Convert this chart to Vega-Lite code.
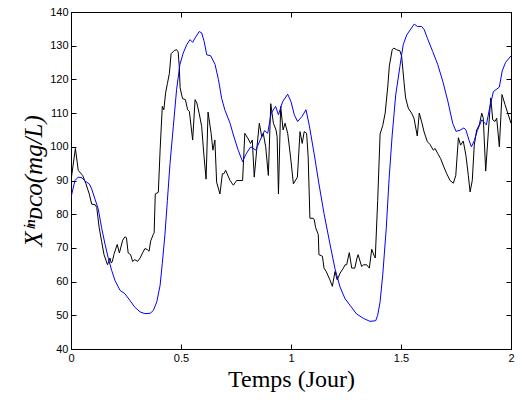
{
  "$schema": "https://vega.github.io/schema/vega-lite/v6.json",
  "width": 440,
  "height": 337,
  "autosize": {"type": "none"},
  "padding": {"left": 71, "top": 12, "right": 9, "bottom": 54},
  "background": "white",
  "config": {
    "view": {"stroke": "black", "strokeWidth": 1},
    "axis": {
      "grid": false,
      "domain": false,
      "ticks": true,
      "tickSize": -5,
      "tickColor": "black",
      "labelPadding": 8,
      "labelFont": "Liberation Sans",
      "labelFontSize": 11,
      "labelColor": "black",
      "titleColor": "black",
      "titleFontWeight": "normal"
    }
  },
  "datasets": {
    "black": [
      {"t":0,"v":90},{"t":0.02,"v":99.5},{"t":0.033,"v":93},{"t":0.053,"v":91.5},{"t":0.068,"v":89},{"t":0.083,"v":86},{"t":0.094,"v":83},{"t":0.11,"v":82.8},{"t":0.117,"v":82},{"t":0.128,"v":76},{"t":0.139,"v":72},{"t":0.15,"v":68},{"t":0.166,"v":65},{"t":0.177,"v":67},{"t":0.183,"v":65.5},{"t":0.188,"v":66},{"t":0.195,"v":68},{"t":0.21,"v":71},{"t":0.22,"v":68.5},{"t":0.235,"v":72.3},{"t":0.245,"v":73.3},{"t":0.252,"v":73},{"t":0.26,"v":68.5},{"t":0.271,"v":68},{"t":0.28,"v":66},{"t":0.29,"v":66.5},{"t":0.303,"v":66},{"t":0.314,"v":67},{"t":0.326,"v":68.6},{"t":0.336,"v":69.8},{"t":0.347,"v":69.5},{"t":0.355,"v":69},{"t":0.362,"v":72},{"t":0.374,"v":74},{"t":0.378,"v":74.5},{"t":0.383,"v":86},{"t":0.397,"v":86.5},{"t":0.405,"v":99},{"t":0.415,"v":112},{"t":0.422,"v":111},{"t":0.43,"v":116},{"t":0.438,"v":118.7},{"t":0.447,"v":121.7},{"t":0.455,"v":127.6},{"t":0.47,"v":128.6},{"t":0.48,"v":128.8},{"t":0.487,"v":128.2},{"t":0.492,"v":124},{"t":0.496,"v":117.5},{"t":0.507,"v":114.3},{"t":0.52,"v":114},{"t":0.53,"v":111},{"t":0.538,"v":110.5},{"t":0.553,"v":102},{"t":0.564,"v":114},{"t":0.572,"v":113},{"t":0.583,"v":109.8},{"t":0.594,"v":106},{"t":0.604,"v":97.6},{"t":0.614,"v":90.4},{"t":0.623,"v":110.3},{"t":0.637,"v":104},{"t":0.645,"v":99},{"t":0.654,"v":102},{"t":0.662,"v":89.5},{"t":0.677,"v":86},{"t":0.688,"v":92},{"t":0.695,"v":92},{"t":0.703,"v":93},{"t":0.723,"v":90},{"t":0.738,"v":88.6},{"t":0.753,"v":90},{"t":0.78,"v":90},{"t":0.79,"v":104},{"t":0.805,"v":102.4},{"t":0.816,"v":101},{"t":0.824,"v":102},{"t":0.833,"v":91},{"t":0.844,"v":99},{"t":0.856,"v":107},{"t":0.867,"v":103},{"t":0.874,"v":104},{"t":0.885,"v":100},{"t":0.897,"v":91.5},{"t":0.908,"v":112.8},{"t":0.92,"v":107},{"t":0.932,"v":105},{"t":0.937,"v":103},{"t":0.943,"v":86},{"t":0.953,"v":112},{"t":0.964,"v":105},{"t":0.973,"v":107},{"t":0.985,"v":104},{"t":0.998,"v":97},{"t":1.011,"v":89},{"t":1.029,"v":91},{"t":1.041,"v":104.5},{"t":1.051,"v":101},{"t":1.06,"v":104.5},{"t":1.071,"v":104},{"t":1.078,"v":97},{"t":1.086,"v":78.8},{"t":1.101,"v":78.8},{"t":1.106,"v":78.3},{"t":1.112,"v":76},{"t":1.124,"v":74},{"t":1.127,"v":68},{"t":1.143,"v":67.5},{"t":1.15,"v":64},{"t":1.16,"v":63},{"t":1.177,"v":60.5},{"t":1.188,"v":58.6},{"t":1.2,"v":63},{"t":1.21,"v":60.5},{"t":1.223,"v":62.5},{"t":1.238,"v":64},{"t":1.246,"v":65},{"t":1.253,"v":65},{"t":1.265,"v":68.6},{"t":1.276,"v":64},{"t":1.29,"v":64},{"t":1.3,"v":67},{"t":1.305,"v":68},{"t":1.321,"v":64.5},{"t":1.33,"v":65},{"t":1.344,"v":65},{"t":1.356,"v":64},{"t":1.367,"v":69.6},{"t":1.379,"v":67.5},{"t":1.383,"v":67},{"t":1.394,"v":84},{"t":1.405,"v":103.8},{"t":1.417,"v":106.3},{"t":1.428,"v":110},{"t":1.44,"v":118},{"t":1.447,"v":124},{"t":1.46,"v":128.8},{"t":1.467,"v":129.3},{"t":1.48,"v":128.8},{"t":1.495,"v":128.5},{"t":1.503,"v":126.8},{"t":1.514,"v":119},{"t":1.521,"v":114.5},{"t":1.533,"v":111.5},{"t":1.548,"v":110},{"t":1.559,"v":108.5},{"t":1.574,"v":103.2},{"t":1.583,"v":110},{"t":1.594,"v":107.4},{"t":1.605,"v":104.4},{"t":1.62,"v":101.5},{"t":1.632,"v":100.7},{"t":1.647,"v":99},{"t":1.655,"v":99.5},{"t":1.667,"v":98},{"t":1.68,"v":96.5},{"t":1.695,"v":94},{"t":1.708,"v":92},{"t":1.723,"v":90},{"t":1.738,"v":89.2},{"t":1.749,"v":91.5},{"t":1.761,"v":102.7},{"t":1.771,"v":100.5},{"t":1.783,"v":101.7},{"t":1.795,"v":97.5},{"t":1.806,"v":91.5},{"t":1.814,"v":86.6},{"t":1.824,"v":90},{"t":1.833,"v":100.5},{"t":1.844,"v":105},{"t":1.856,"v":106.5},{"t":1.867,"v":110},{"t":1.874,"v":108.5},{"t":1.885,"v":92.8},{"t":1.897,"v":104.4},{"t":1.908,"v":114.5},{"t":1.917,"v":108},{"t":1.927,"v":107.5},{"t":1.935,"v":108.5},{"t":1.947,"v":100},{"t":1.959,"v":115.5},{"t":1.973,"v":112.5},{"t":2.0,"v":107}
    ],
    "blue": [
      {"t":0,"v":85},{"t":0.018,"v":90},{"t":0.033,"v":91},{"t":0.05,"v":90.8},{"t":0.064,"v":89.8},{"t":0.083,"v":89},{"t":0.094,"v":87.5},{"t":0.109,"v":84.5},{"t":0.124,"v":81.5},{"t":0.139,"v":76},{"t":0.155,"v":71},{"t":0.17,"v":66.8},{"t":0.185,"v":63.3},{"t":0.2,"v":60.3},{"t":0.223,"v":57.4},{"t":0.245,"v":56.4},{"t":0.268,"v":54.4},{"t":0.29,"v":52.4},{"t":0.314,"v":51},{"t":0.336,"v":50.5},{"t":0.36,"v":50.6},{"t":0.374,"v":51.4},{"t":0.39,"v":54},{"t":0.405,"v":58.9},{"t":0.415,"v":65.4},{"t":0.427,"v":74},{"t":0.438,"v":84},{"t":0.45,"v":95},{"t":0.465,"v":106},{"t":0.48,"v":117},{"t":0.495,"v":124.4},{"t":0.51,"v":127.8},{"t":0.526,"v":130.3},{"t":0.541,"v":131.8},{"t":0.553,"v":131},{"t":0.564,"v":132.3},{"t":0.583,"v":134.2},{"t":0.594,"v":133.8},{"t":0.605,"v":131.3},{"t":0.617,"v":127.3},{"t":0.635,"v":127},{"t":0.655,"v":124.4},{"t":0.67,"v":120},{"t":0.685,"v":114.3},{"t":0.7,"v":110.8},{"t":0.723,"v":107},{"t":0.738,"v":103.5},{"t":0.76,"v":99},{"t":0.78,"v":95.6},{"t":0.795,"v":97.8},{"t":0.817,"v":100},{"t":0.84,"v":99},{"t":0.86,"v":102},{"t":0.88,"v":104.8},{"t":0.894,"v":104},{"t":0.91,"v":110},{"t":0.93,"v":112},{"t":0.943,"v":109.5},{"t":0.962,"v":113.4},{"t":0.985,"v":115.6},{"t":1.0,"v":113.4},{"t":1.015,"v":109.5},{"t":1.03,"v":107.5},{"t":1.05,"v":109},{"t":1.068,"v":111},{"t":1.083,"v":106.4},{"t":1.105,"v":98},{"t":1.127,"v":89},{"t":1.15,"v":80.2},{"t":1.177,"v":71.2},{"t":1.2,"v":63.8},{"t":1.223,"v":58.4},{"t":1.245,"v":55},{"t":1.268,"v":53},{"t":1.298,"v":50.4},{"t":1.329,"v":49.1},{"t":1.359,"v":48.2},{"t":1.385,"v":48.4},{"t":1.394,"v":50},{"t":1.405,"v":54},{"t":1.417,"v":62},{"t":1.433,"v":75.8},{"t":1.446,"v":90.6},{"t":1.46,"v":103.5},{"t":1.476,"v":115.4},{"t":1.495,"v":123.8},{"t":1.51,"v":130.3},{"t":1.526,"v":133.2},{"t":1.545,"v":135},{"t":1.56,"v":136.4},{"t":1.575,"v":135.7},{"t":1.594,"v":135.7},{"t":1.606,"v":134.7},{"t":1.62,"v":132.2},{"t":1.644,"v":128.3},{"t":1.667,"v":124.4},{"t":1.69,"v":119.4},{"t":1.713,"v":113.5},{"t":1.735,"v":107},{"t":1.75,"v":104.6},{"t":1.768,"v":104.9},{"t":1.786,"v":105.6},{"t":1.795,"v":105},{"t":1.81,"v":101.8},{"t":1.82,"v":100},{"t":1.833,"v":101.8},{"t":1.847,"v":104.8},{"t":1.867,"v":108},{"t":1.888,"v":106.5},{"t":1.903,"v":111.6},{"t":1.92,"v":116.4},{"t":1.947,"v":117.7},{"t":1.96,"v":122.5},{"t":1.975,"v":125},{"t":2.0,"v":127}
    ]
  },
  "layer": [
    {
      "data": {"name": "black"},
      "mark": {"type": "line", "color": "black", "strokeWidth": 1, "clip": true},
      "encoding": {
        "x": {"field": "t", "type": "quantitative", "scale": {"domain": [0, 2], "nice": false},
          "axis": {"orient": "bottom", "values": [0, 0.5, 1, 1.5, 2], "format": "~g", "title": "Temps (Jour)", "titleFont": "Liberation Serif", "titleFontSize": 24, "titlePadding": 4, "labelFlush": false}},
        "y": {"field": "v", "type": "quantitative", "scale": {"domain": [40, 140], "nice": false},
          "axis": {"orient": "left", "values": [40,50,60,70,80,90,100,110,120,130,140], "title": "Xⁱⁿᴅᴄᴏ(mg/L)", "titleFont": "Liberation Serif", "titleFontStyle": "italic", "titleFontSize": 25, "titlePadding": 3, "labelFlush": false}}
      }
    },
    {
      "data": {"name": "blue"},
      "mark": {"type": "line", "color": "#0000ff", "strokeWidth": 1, "clip": true},
      "encoding": {
        "x": {"field": "t", "type": "quantitative",
          "axis": {"orient": "top", "values": [0, 0.5, 1, 1.5, 2], "labels": false, "title": null}},
        "y": {"field": "v", "type": "quantitative",
          "axis": {"orient": "right", "values": [40,50,60,70,80,90,100,110,120,130,140], "labels": false, "title": null}}
      }
    }
  ],
  "resolve": {"axis": {"x": "independent", "y": "independent"}}
}
